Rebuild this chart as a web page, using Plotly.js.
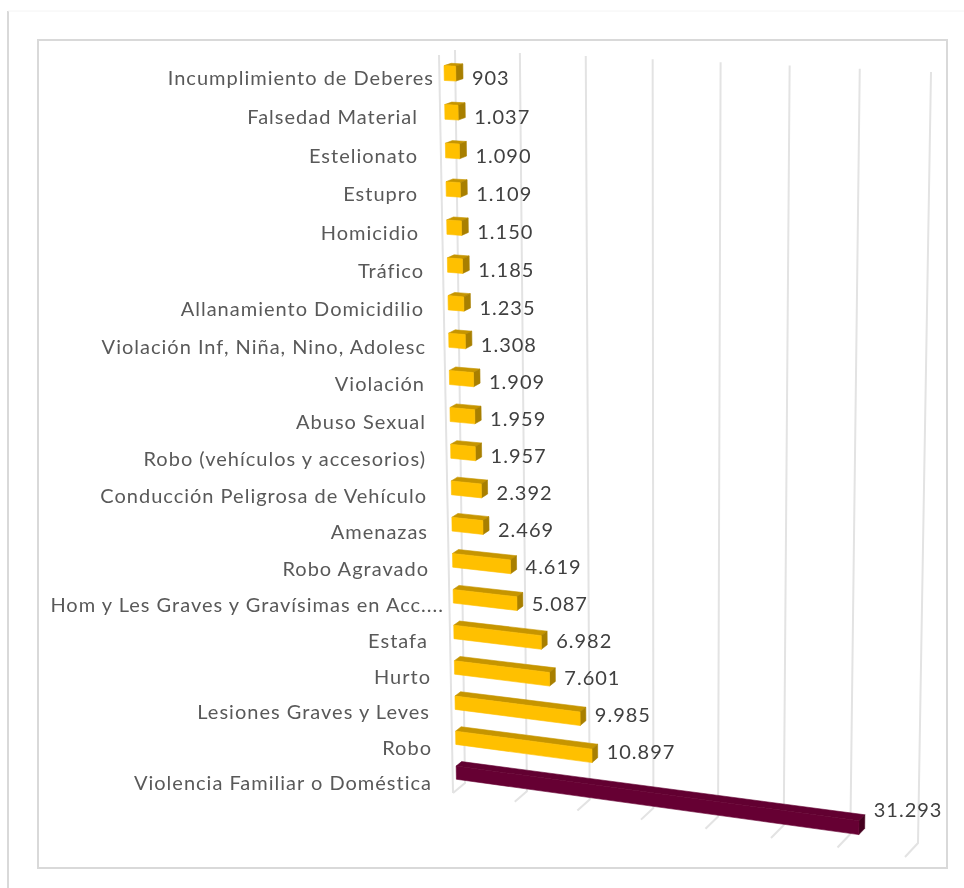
<!DOCTYPE html>
<html>
<head>
<meta charset="utf-8">
<script src="https://cdn.plot.ly/plotly-3.0.1.min.js"></script>
<style>
html,body{margin:0;padding:0;background:#fff;overflow:hidden}
#chart{width:964px;height:888px}
#chart .main-svg{filter:blur(0.5px)}
#chart .textpoint text{letter-spacing:1px}
</style>
</head>
<body>
<div id="chart"></div>
<script>
const categories = ["Incumplimiento de Deberes","Falsedad Material","Estelionato","Estupro","Homicidio","Tráfico","Allanamiento Domicidilio","Violación Inf, Niña, Nino, Adolesc","Violación","Abuso Sexual","Robo (vehículos y accesorios)","Conducción Peligrosa de Vehículo","Amenazas","Robo Agravado","Hom y Les Graves y Gravísimas en Acc....","Estafa","Hurto","Lesiones Graves y Leves","Robo","Violencia Familiar o Doméstica"];
const values = [903,1037,1090,1109,1150,1185,1235,1308,1909,1959,1957,2392,2469,4619,5087,6982,7601,9985,10897,31293];
const gridValues = [0,5000,10000,15000,20000,25000,30000,35000];
const valueMax = 35000;

// Scene geometry: where the 3D box's back and front walls fall on the page.
const backWall  = [[455,50],[931,72],[918,843],[465,783]];
const frontWall = [[439,55],[915,81],[905,857],[453,793]];
const barDepth = [0.25,0.70];
const barHalf = 0.19;
const rowBow = 0.0027;
const labelRight = [434,418,418,418,419,424,424,426,425,426,426,427,428,429,444,428,431,430,432,432];

function homography(q){
  const [x0,y0]=q[0],[x1,y1]=q[1],[x2,y2]=q[2],[x3,y3]=q[3];
  const dx1=x1-x2,dx2=x3-x2,sx=x0-x1+x2-x3,dy1=y1-y2,dy2=y3-y2,sy=y0-y1+y2-y3;
  const den=dx1*dy2-dx2*dy1,g=(sx*dy2-dx2*sy)/den,h=(dx1*sy-sx*dy1)/den;
  const a=x1-x0+g*x1,b=x3-x0+h*x3,d=y1-y0+g*y1,e=y3-y0+h*y3;
  return (u,v)=>{const w=g*u+h*v+1;return [(a*u+b*v+x0)/w,(d*u+e*v+y0)/w];};
}
const hBack=homography(backWall),hFront=homography(frontWall);
const n=categories.length;
function P(val,row,depth){
  const u=val/valueMax,r=row/n,v=r+rowBow*4*r*(1-r);
  const p=hBack(u,v),q=hFront(u,v);
  return [p[0]+(q[0]-p[0])*depth,p[1]+(q[1]-p[1])*depth];
}
const fmt=v=>String(v).replace(/\B(?=(\d{3})+(?!\d))/g,".");

function poly(store,pts){
  pts.concat([pts[0]]).forEach(p=>{store.x.push(p[0]);store.y.push(p[1]);});
  store.x.push(null);store.y.push(null);
}
const faces=()=>({x:[],y:[]});
const gold={top:faces(),side:faces(),front:faces()},wine={top:faces(),side:faces(),front:faces()};
const [d0,d1]=barDepth;
values.forEach((val,i)=>{
  const t=i+0.5-barHalf,b=i+0.5+barHalf,set=i===n-1?wine:gold;
  poly(set.top,[P(0,t,d1),P(val,t,d1),P(val,t,d0),P(0,t,d0)]);
  poly(set.side,[P(val,t,d1),P(val,b,d1),P(val,b,d0),P(val,t,d0)]);
  poly(set.front,[P(0,t,d1),P(val,t,d1),P(val,b,d1),P(0,b,d1)]);
});
const faceTrace=(s,c)=>({x:s.x,y:s.y,mode:'lines',fill:'toself',fillcolor:c,line:{color:c,width:0.6},hoverinfo:'skip'});

const grid={x:[],y:[]};
gridValues.forEach(g=>{
  [P(g,0,0),P(g,n,0),P(g,n,1)].forEach(p=>{grid.x.push(p[0]);grid.y.push(p[1]);});
  grid.x.push(null);grid.y.push(null);
});
[P(0,0,1),P(0,n,1)].forEach(p=>{grid.x.push(p[0]);grid.y.push(p[1]);});

const catPos=categories.map((c,i)=>[labelRight[i],P(0,i+0.5,1)[1]+5+4*i/(n-1)]);
const valPos=values.map((v,i)=>{const p=P(v,i+0.5,d0);return [p[0]+9,p[1]+9.5-0.0006*v];});

const data=[
 {x:grid.x,y:grid.y,mode:'lines',line:{color:'#e3e3e3',width:2},hoverinfo:'skip'},
 faceTrace(gold.top,'#c69500'),faceTrace(gold.side,'#a87f00'),faceTrace(gold.front,'#ffc000'),
 faceTrace(wine.top,'#620031'),faceTrace(wine.side,'#45001f'),faceTrace(wine.front,'#660033'),
 {x:catPos.map(p=>p[0]),y:catPos.map(p=>p[1]),text:categories,mode:'text',textposition:'middle left',
  textfont:{family:'Lato',size:20,color:'#595959'},cliponaxis:false,hoverinfo:'skip'},
 {x:valPos.map(p=>p[0]),y:valPos.map(p=>p[1]),text:values.map(fmt),mode:'text',textposition:'middle right',
  textfont:{family:'Lato',size:20,color:'#404040'},cliponaxis:false,hoverinfo:'skip'}
];
const axis={visible:false,fixedrange:true};
const layout={
 width:964,height:888,margin:{l:0,r:0,t:0,b:0},paper_bgcolor:'#fff',plot_bgcolor:'#fff',showlegend:false,hovermode:false,
 xaxis:Object.assign({range:[0,964]},axis),
 yaxis:Object.assign({range:[888,0]},axis),
 shapes:[
  {type:'rect',xref:'x',yref:'y',x0:38,y0:40,x1:947,y1:868,line:{color:'#d9d9d9',width:2},layer:'below'},
  {type:'line',xref:'x',yref:'y',x0:8,y0:11,x1:8,y1:888,line:{color:'#d9d9d9',width:2},layer:'below'},
  {type:'line',xref:'x',yref:'y',x0:8,y0:11,x1:964,y1:11,line:{color:'#f4f4f4',width:1},layer:'below'}
 ]
};
Plotly.newPlot('chart',data,layout,{displayModeBar:false,staticPlot:true});
</script>
</body>
</html>
